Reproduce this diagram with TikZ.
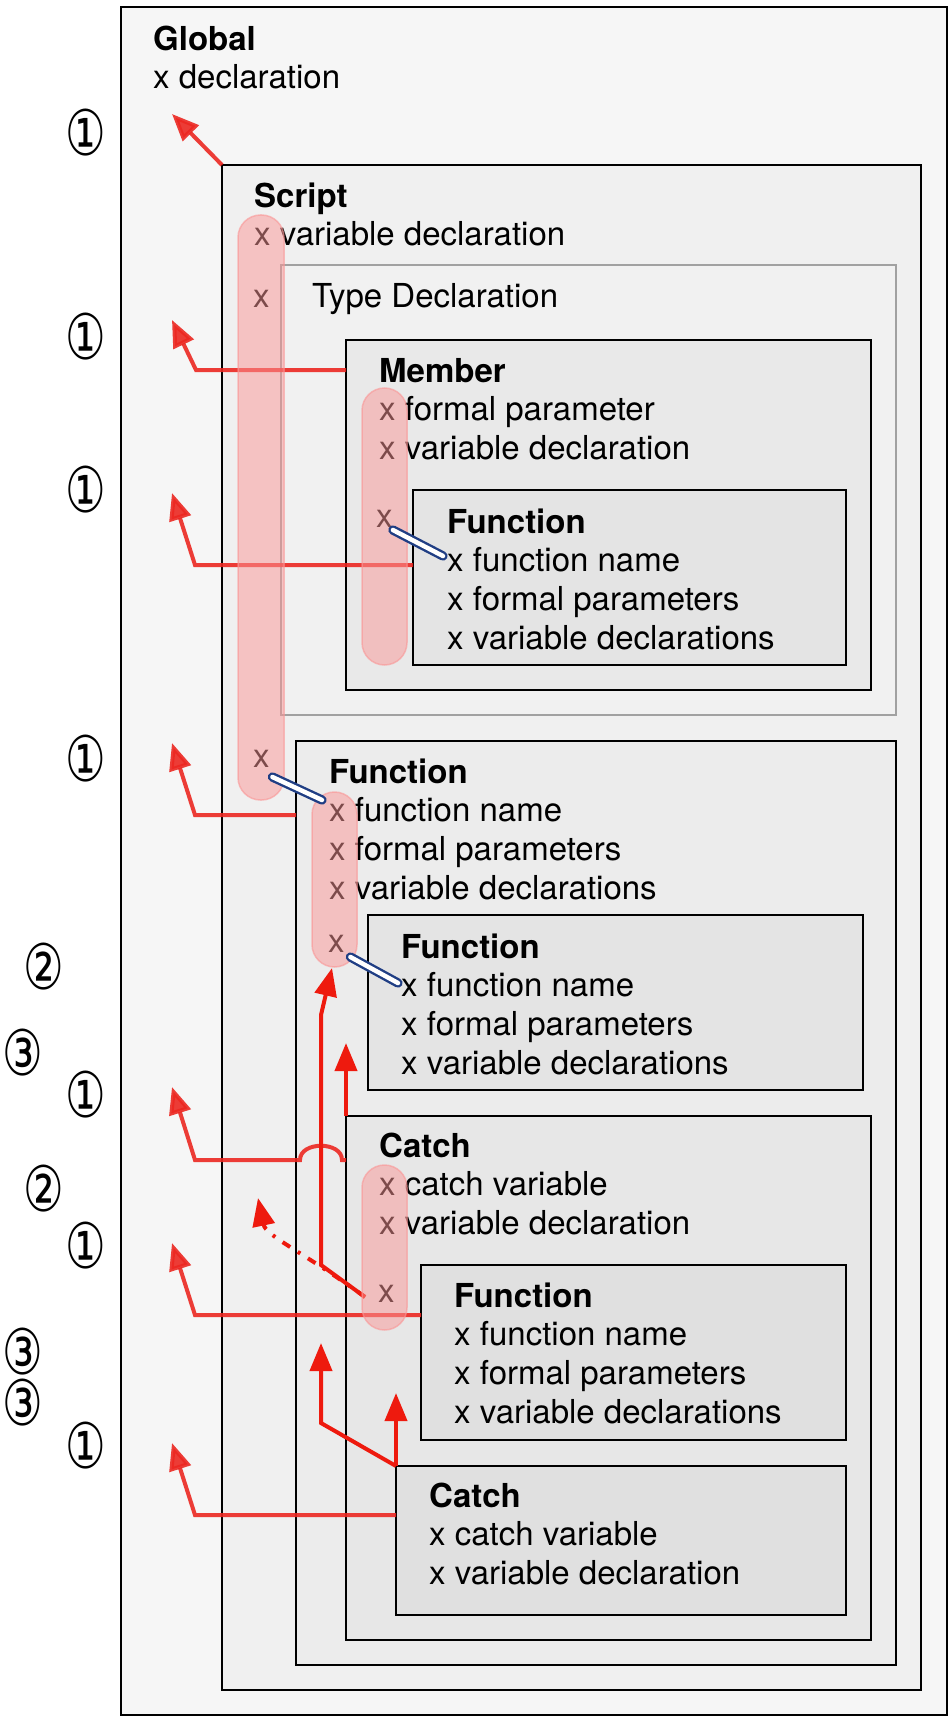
\documentclass[tikz,border=0pt]{standalone}
\usepackage{fontspec}
\setmainfont{TeX Gyre Heros}
\newfontfamily\circfont{DejaVu Sans}
\usetikzlibrary{arrows.meta}

\definecolor{globalfill}{gray}{0.965}
\definecolor{scriptfill}{gray}{0.94}
\definecolor{typefill}{gray}{0.945}
\definecolor{typeline}{gray}{0.63}
\definecolor{memberfill}{gray}{0.915}
\definecolor{funcfill}{gray}{0.895}
\definecolor{outerfuncfill}{gray}{0.925}
\definecolor{catchfill}{gray}{0.905}
\definecolor{innerfill}{gray}{0.88}
\definecolor{scopered}{RGB}{236,40,34}
\definecolor{upred}{RGB}{238,26,14}
\definecolor{pillred}{RGB}{250,150,150}
\definecolor{clipblue}{RGB}{32,62,132}

\begin{document}
\begin{tikzpicture}[x=1pt, y=-1pt,
  scopebox/.style={draw, line width=2pt, anchor=north west, inner sep=0pt, outer sep=0pt},
  boxtext/.style={anchor=north west, inner sep=0pt, align=left, font=\fontsize{33}{38.7}\selectfont},
  onex/.style={anchor=base west, inner sep=0pt, font=\fontsize{33}{38.7}\selectfont},
  level/.style={inner sep=0pt, font=\circfont\fontsize{63}{63}\selectfont},
  parentarrow/.style={draw=scopered, opacity=.9, line width=4pt, -{Triangle[length=27pt,width=22pt]}},
  uparrow/.style={draw=upred, line width=4pt, -{Triangle[length=28pt,width=22pt]}},
  pill/.style={fill=pillred, fill opacity=.5, draw=pillred, draw opacity=.6, line width=1.5pt, rounded corners=22.5pt},
  clipline/.style={draw=clipblue, line width=2.4pt, double=white, double distance=4.5pt, line cap=round}]

\path[use as bounding box, fill=white] (0,0) rectangle (950,1720);

\node[scopebox, fill=globalfill, line width=1.8pt, minimum width=826pt, minimum height=1708pt] (global) at (121,7) {};
\node[scopebox, fill=scriptfill, minimum width=699pt, minimum height=1525pt] (script) at (222,165) {};
\node[scopebox, fill=typefill, draw=typeline, minimum width=615pt, minimum height=450pt] (typedecl) at (281,265) {};
\node[scopebox, fill=memberfill, minimum width=525pt, minimum height=350pt] (member) at (346,340) {};
\node[scopebox, fill=funcfill, minimum width=433pt, minimum height=175pt] (func1) at (413,490) {};
\node[scopebox, fill=outerfuncfill, minimum width=600pt, minimum height=924pt] (func2) at (296,741) {};
\node[scopebox, fill=funcfill, minimum width=495pt, minimum height=175pt] (func3) at (368,915) {};
\node[scopebox, fill=catchfill, minimum width=525pt, minimum height=524pt] (catch) at (346,1116) {};
\node[scopebox, fill=innerfill, minimum width=425pt, minimum height=175pt] (func4) at (421,1265) {};
\node[scopebox, fill=innerfill, minimum width=450pt, minimum height=149pt] (catch2) at (396,1466) {};

\node[boxtext] (globaltxt) at (153,23) {\rule{0pt}{27pt}\textbf{Global}\\x declaration};
\node[boxtext] (scripttxt) at (254,180) {\rule{0pt}{27pt}\textbf{Script}\\x variable declaration};
\node[onex] (typetxt) at (312,307) {Type Declaration};
\node[boxtext] (membertxt) at (379,355) {\rule{0pt}{27pt}\textbf{Member}\\x formal parameter\\x variable declaration};
\node[boxtext] (func1txt) at (447,506) {\rule{0pt}{27pt}\textbf{Function}\\x function name\\x formal parameters\\x variable declarations};
\node[boxtext] (func2txt) at (329,756) {\rule{0pt}{27pt}\textbf{Function}\\x function name\\x formal parameters\\x variable declarations};
\node[boxtext] (func3txt) at (401,931) {\rule{0pt}{27pt}\textbf{Function}\\x function name\\x formal parameters\\x variable declarations};
\node[boxtext] (catchtxt) at (379,1130) {\rule{0pt}{27pt}\textbf{Catch}\\x catch variable\\x variable declaration};
\node[boxtext] (func4txt) at (454,1280) {\rule{0pt}{27pt}\textbf{Function}\\x function name\\x formal parameters\\x variable declarations};
\node[boxtext] (catch2txt) at (429,1480) {\rule{0pt}{27pt}\textbf{Catch}\\x catch variable\\x variable declaration};

\node[onex] (scriptx1) at (253,307) {x};
\node[onex] (scriptx2) at (253,767) {x};
\node[onex] (memberx) at (376,527) {x};
\node[onex] (funcx) at (328,952) {x};
\node[onex] (catchx) at (378,1302) {x};

\node[level] (l1) at (86,133) {\scalebox{.72}[1]{①}};
\node[level] (l2) at (86,337) {\scalebox{.72}[1]{①}};
\node[level] (l3) at (86,490) {\scalebox{.72}[1]{①}};
\node[level] (l4) at (86,759) {\scalebox{.72}[1]{①}};
\node[level] (l5) at (44,967) {\scalebox{.72}[1]{②}};
\node[level] (l6) at (23,1053) {\scalebox{.72}[1]{③}};
\node[level] (l7) at (86,1095) {\scalebox{.72}[1]{①}};
\node[level] (l8) at (44,1189) {\scalebox{.72}[1]{②}};
\node[level] (l9) at (86,1246) {\scalebox{.72}[1]{①}};
\node[level] (l10) at (23,1352) {\scalebox{.72}[1]{③}};
\node[level] (l11) at (23,1403) {\scalebox{.72}[1]{③}};
\node[level] (l12) at (86,1446) {\scalebox{.72}[1]{①}};

\draw[parentarrow] (script.north west) -- (172,114);
\draw[parentarrow] ([yshift=-30pt]member.north west) -- (196,370) -- (172,320);
\draw[parentarrow] ([yshift=-75pt]func1.north west) -- (195,565) -- (172,493);
\draw[parentarrow] ([yshift=-74pt]func2.north west) -- (195,815) -- (172,743);
\draw[parentarrow] ([yshift=-44pt]catch.north west) -- (342,1160) .. controls (342,1141) and (300,1141) .. (300,1160) -- (195,1160) -- (172,1087);
\draw[parentarrow] ([yshift=-50pt]func4.north west) -- (195,1315) -- (172,1243);
\draw[parentarrow] ([yshift=-49pt]catch2.north west) -- (195,1515) -- (172,1443);

\draw[uparrow] (catch.north west) -- (346,1043);
\draw[uparrow] ([xshift=-13pt,yshift=5pt]catchx.base west) -- (321,1265) -- (321,1015) -- (332,968);
\draw[uparrow, dash pattern=on 9pt off 9pt on 3pt off 9pt] ([xshift=-13pt,yshift=5pt]catchx.base west) .. controls (300,1250) and (266,1236) .. (258,1198);
\draw[uparrow] (catch2.north west) -- (396,1393);
\draw[uparrow] (catch2.north west) -- (321,1423) -- (321,1343);

\draw[pill] (238,215) rectangle (284,800);
\draw[pill] (362,388) rectangle (407,665);
\draw[pill] (312,792) rectangle (357,967);
\draw[pill] (362,1165) rectangle (407,1330);

\draw[clipline] ([yshift=-3pt]memberx.base east) -- ([xshift=-4pt,yshift=-50pt]func1txt.north west);
\draw[clipline] ([xshift=2.5pt,yshift=-10pt]scriptx2.base east) -- ([xshift=-7pt,yshift=-44pt]func2txt.north west);
\draw[clipline] ([xshift=5.5pt,yshift=-5pt]funcx.base east) -- ([xshift=-3pt,yshift=-52pt]func3txt.north west);
\end{tikzpicture}
\end{document}
